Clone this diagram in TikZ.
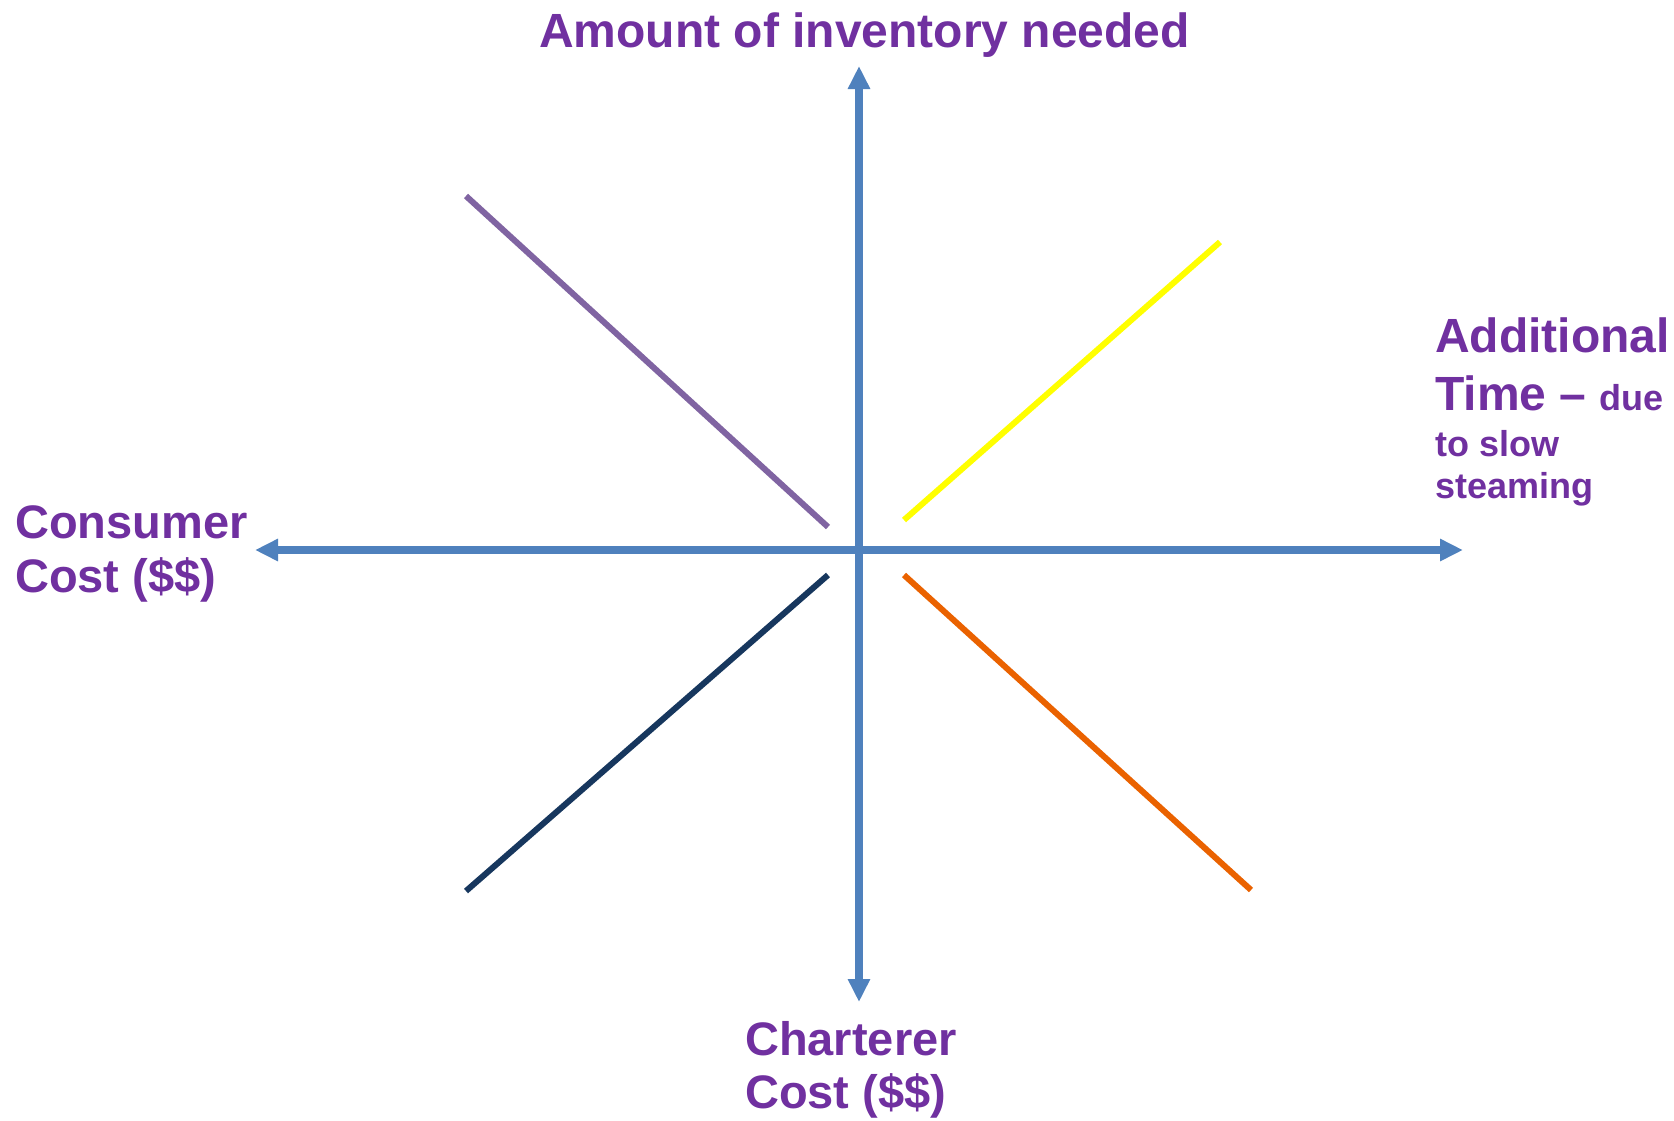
\documentclass[tikz,border=0pt]{standalone}
\usepackage{fontspec}
\setmainfont{Liberation Sans}
\usetikzlibrary{arrows.meta}
\definecolor{axisblue}{HTML}{4F81BD}
\definecolor{labpurple}{HTML}{7030A0}
\definecolor{linepurple}{HTML}{8064A2}
\definecolor{lineyellow}{HTML}{FFFF00}
\definecolor{linenavy}{HTML}{17375E}
\definecolor{lineorange}{HTML}{EA6200}
\pgfdeclareradialshading{vignette}{\pgfpoint{0bp}{0bp}}{color(0bp)=(white); color(35bp)=(white); color(50bp)=(black!10)}
\begin{document}
\begin{tikzpicture}[x=1pt,y=-1pt,
  axisline/.style={draw=axisblue, line width=7.5pt,
    {Triangle[length=23pt,width=21pt]}-{Triangle[length=23pt,width=21pt]}},
  diag/.style={line width=6pt},
  lab/.style={text=labpurple, font=\bfseries\fontsize{47}{54}\selectfont, inner sep=0pt, anchor=base west},
  biglab/.style={lab, font=\bfseries\fontsize{48}{56}\selectfont},
  smalllab/.style={lab, font=\bfseries\fontsize{36}{42}\selectfont}]
\useasboundingbox (0,0) rectangle (1674,1120);
\begin{scope}
  \clip (0,0) rectangle (1674,1120);
  \fill[white] (0,0) rectangle (1674,1120);
  \shade[shading=vignette] (900,500) circle (1100);
\end{scope}
% axis end points
\coordinate (o) at (859,550);
\coordinate (top) at (859,66);
\coordinate (bot) at (859,1002);
\coordinate (left) at (255,550);
\coordinate (right) at (1463,550);
\draw[axisline] (bot) -- (top);
\draw[axisline] (left) -- (right);
% diagonal lines
\coordinate (p1) at (466,196); \coordinate (p2) at (828,527);
\coordinate (y1) at (904,520); \coordinate (y2) at (1220,242);
\coordinate (n1) at (828,575); \coordinate (n2) at (466,891);
\coordinate (r1) at (904,575); \coordinate (r2) at (1251,890);
\draw[diag, linepurple] (p1) -- (p2);
\draw[diag, lineyellow] (y1) -- (y2);
\draw[diag, linenavy] (n1) -- (n2);
\draw[diag, lineorange] (r1) -- (r2);
% labels
\node[biglab] (title) at (539,47) {Amount of inventory needed};
\node[biglab] (add1) at (1435,352) {Additional};
\node[biglab] (add2) at (1435,410) {Time – {\fontsize{36}{42}\selectfont due}};
\node[smalllab] (add3) at (1435,456) {to slow};
\node[smalllab] (add4) at (1435,498) {steaming};
\node[lab] (cons1) at (15,538) {Consumer};
\node[lab] (cons2) at (15,592) {Cost (\$\$)};
\node[lab] (char1) at (745,1055) {Charterer};
\node[lab] (char2) at (745,1108) {Cost (\$\$)};
\end{tikzpicture}
\end{document}
